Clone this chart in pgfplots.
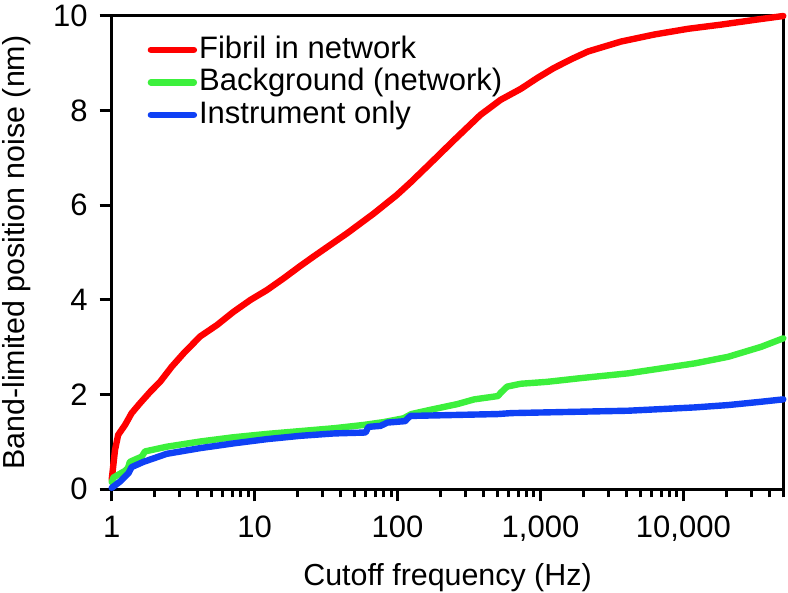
\documentclass[border=0pt]{standalone}
\usepackage{fontspec}
\setmainfont{Liberation Sans}
\usepackage{pgfplots}
\pgfplotsset{compat=1.18}
\usetikzlibrary{calc}
\definecolor{cred}{RGB}{255,0,0}
\definecolor{cgreen}{RGB}{60,240,60}
\definecolor{cblue}{RGB}{15,65,245}
\begin{document}
\begin{tikzpicture}
\begin{axis}[
  scale only axis, width=335.8bp, height=236.65bp,
  xmode=log, xmin=1, xmax=50000, ymin=0, ymax=10,
  clip=false,
  axis line style={line width=1.5bp},
  every tick/.style={black, line width=1.5bp},
  major tick length=6bp, minor tick length=4bp,
  tick align=outside, xtick pos=bottom, ytick pos=left,
  xtick={1,10,100,1000,10000}, xticklabels={1,10,100,{1,000},{10,000}},
  minor xtick={2,3,4,5,6,7,8,9,20,30,40,50,60,70,80,90,200,300,400,500,600,700,800,900,2000,3000,4000,5000,6000,7000,8000,9000,20000,30000,40000,50000},
  ytick={0,2,4,6,8,10}, yticklabels={0,2,4,6,8,10},
  /pgf/number format/assume math mode=true,
  ticklabel style={font=\fontsize{15.5bp}{18bp}\selectfont},
  yticklabel style={xshift=-2.5bp},
  xticklabel style={yshift=-4bp},
  xlabel={Cutoff frequency (Hz)},
  ylabel={Band-limited position noise (nm)},
  label style={font=\fontsize{15.2bp}{18bp}\selectfont},
  xlabel style={at={(axis description cs:0.5,-0.2022)}, anchor=base},
  ylabel style={at={(axis description cs:-0.1295,0.5)}, anchor=base},
  legend style={draw=none, fill=none, inner sep=0pt, at={(axis description cs:0.053,0.960)}, anchor=north west,
    font=\fontsize{15.5bp}{18bp}\selectfont, row sep=1.75bp,
    nodes={inner sep=0pt, text height=11.5bp, text depth=3bp},
    /tikz/every odd column/.append style={column sep=1bp}},
  legend cell align=left,
  legend image code/.code={\draw[#1, line width=3.2bp] (0bp,0bp) -- (21.5bp,0bp);},
  every axis plot/.append style={line width=3.2bp, line join=round, line cap=round},
]
\addplot[cred] coordinates {
(1,0.2) (1.03,0.55) (1.055,0.83) (1.11,1.15) (1.24,1.36) (1.38,1.61) (1.58,1.82) (1.86,2.06) (2.18,2.27) (2.63,2.59) (3.18,2.87) (4.16,3.23) (5.45,3.47) (7.12,3.75) (9.34,4.0) (12.2,4.21) (16,4.46) (20.9,4.72) (25.9,4.92) (44.4,5.41) (68.4,5.83) (99,6.22) (123,6.48) (170,6.89) (249,7.38) (380,7.91) (527,8.23) (728,8.46) (950,8.69) (1240,8.90) (1650,9.09) (2150,9.25) (3660,9.46) (6290,9.61) (10800,9.73) (18600,9.82) (31800,9.92) (50000,10.0)
};
\addlegendentry{Fibril in network}
\addplot[cgreen] coordinates {
(1,0.15) (1.03,0.25) (1.24,0.39) (1.3,0.45) (1.34,0.58) (1.62,0.69) (1.71,0.80) (2.43,0.90) (4.16,1.01) (7.12,1.10) (12.2,1.17) (20.9,1.23) (35.8,1.29) (58,1.36) (80,1.42) (110,1.50) (125,1.59) (170,1.68) (262,1.80) (344,1.90) (504,1.97) (527,2.04) (585,2.17) (728,2.23) (1110,2.27) (1930,2.35) (4100,2.45) (12000,2.66) (20600,2.80) (35000,3.01) (50000,3.19)
};
\addlegendentry{Background (network)}
\addplot[cblue] coordinates {
(1,0.03) (1.14,0.16) (1.31,0.34) (1.38,0.47) (1.67,0.58) (2.43,0.75) (4.16,0.87) (7.12,0.97) (12.2,1.06) (20.9,1.13) (35.8,1.18) (59.8,1.20) (62,1.30) (63,1.32) (76,1.34) (85,1.41) (113,1.44) (118,1.50) (123,1.55) (504,1.59) (624,1.61) (1930,1.64) (4100,1.66) (12000,1.73) (20600,1.78) (35000,1.85) (50000,1.90)
};
\addlegendentry{Instrument only}
\coordinate (sw) at (rel axis cs:0,0);
\coordinate (ne) at (rel axis cs:1,1);
\end{axis}
\pgfresetboundingbox
\useasboundingbox ($(sw)+(-55.85bp,-51.85bp)$) rectangle ($(ne)+(2.35bp,8bp)$);
\end{tikzpicture}
\end{document}
